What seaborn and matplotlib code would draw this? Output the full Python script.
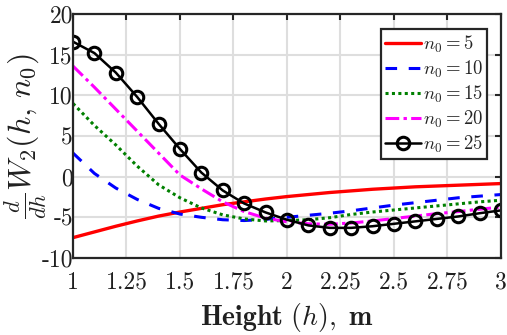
import numpy as np
import pandas as pd
import matplotlib
matplotlib.use("Agg")
import matplotlib.pyplot as plt
import seaborn as sns

# Height grid (m)
height = [1.0, 1.1, 1.2, 1.3, 1.4, 1.5, 1.6, 1.7, 1.8, 1.9, 2.0,
          2.1, 2.2, 2.3, 2.4, 2.5, 2.6, 2.7, 2.8, 2.9, 3.0]

# d/dh W2(h, n0) for each n0
dw_n5 = [-7.5, -6.8, -6.1, -5.45, -4.85, -4.35, -3.9, -3.45, -3.1, -2.75, -2.45,
         -2.2, -1.95, -1.75, -1.55, -1.4, -1.25, -1.15, -1.05, -0.95, -0.85]
dw_n10 = [2.9, 0.4, -1.4, -2.8, -3.9, -4.6, -5.0, -5.3, -5.4, -5.25, -5.0,
          -4.75, -4.5, -4.2, -3.85, -3.5, -3.2, -2.9, -2.6, -2.4, -2.2]
dw_n15 = [9.0, 6.3, 3.9, 1.3, -1.0, -2.6, -3.85, -4.7, -5.2, -5.45, -5.4,
          -5.3, -5.05, -4.65, -4.35, -4.1, -3.85, -3.6, -3.35, -3.1, -2.9]
dw_n20 = [13.6, 11.0, 8.3, 5.6, 2.9, 0.2, -1.5, -3.1, -4.3, -5.1, -5.55,
          -5.8, -5.85, -5.7, -5.45, -5.15, -4.85, -4.55, -4.3, -4.0, -3.75]
dw_n25 = [16.6, 15.2, 12.8, 9.8, 6.5, 3.4, 0.5, -1.7, -3.3, -4.4, -5.3,
          -6.0, -6.3, -6.3, -6.1, -5.8, -5.5, -5.2, -4.9, -4.5, -4.15]

labels = [r"$n_0 = 5$", r"$n_0 = 10$", r"$n_0 = 15$", r"$n_0 = 20$", r"$n_0 = 25$"]

xticks = [1, 1.25, 1.5, 1.75, 2, 2.25, 2.5, 2.75, 3]
xtick_labels = ["1", "1.25", "1.5", "1.75", "2", "2.25", "2.5", "2.75", "3"]
yticks = [-10, -5, 0, 5, 10, 15, 20]
ytick_labels = ["-10", "-5", "0", "5", "10", "15", "20"]

sns.set_style("white")
plt.rcParams["font.family"] = ["cmr10"]
plt.rcParams["mathtext.fontset"] = "cm"
plt.rcParams["axes.unicode_minus"] = False

fig = plt.figure(figsize=(5.07, 3.35), dpi=100)
ax = fig.add_axes([0.144, 0.230, 0.844, 0.728])

styles = [
    dict(color="#ff0000", lw=2.4, dashes=None),
    dict(color="#0000ff", lw=2.2, dashes=(3.8, 3.8)),
    dict(color="#008000", lw=2.2, dashes=(1, 1.1)),
    dict(color="#ff00ff", lw=2.2, dashes=(4.5, 1.4, 1.1, 1.4)),
]
series = [dw_n5, dw_n10, dw_n15, dw_n20]

for vals, lab, st in zip(series, labels[:4], styles):
    df = pd.DataFrame({"h": height, "dw": vals})
    sns.lineplot(data=df, x="h", y="dw", ax=ax, color=st["color"],
                 linewidth=st["lw"], label=lab)
    ln = ax.get_lines()[-1]
    if st["dashes"] is not None:
        ln.set_dashes(st["dashes"])
        ln.set_dash_capstyle("butt")

df25 = pd.DataFrame({"h": height, "dw": dw_n25})
sns.lineplot(data=df25, x="h", y="dw", ax=ax, color="black", linewidth=1.8,
             marker="o", markersize=9, markerfacecolor="none",
             markeredgecolor="black", markeredgewidth=2.2, label=labels[4])

ax.set_xlim(1, 3)
ax.set_ylim(-10, 20)
ax.set_xticks(xticks)
ax.set_xticklabels(xtick_labels)
ax.set_yticks(yticks)
ax.set_yticklabels(ytick_labels)
ax.tick_params(direction="in", length=4, width=1.5, top=True, right=True,
               labelsize=17, colors="#262626")
ax.tick_params(axis="x", pad=10)
ax.tick_params(axis="y", pad=0)
for lbl in ax.get_xticklabels() + ax.get_yticklabels():
    lbl.set_color("#202020")

ax.grid(True, color="#dedede", linewidth=1.5)
ax.set_axisbelow(True)
for sp in ax.spines.values():
    sp.set_color("#262626")
    sp.set_linewidth(1.6)

ax.set_xlabel(r"$\mathbf{Height}\ (h)\mathbf{,\ m}$", fontsize=20, color="#202020")
ax.xaxis.set_label_coords(0.5, -0.175)
ax.set_ylabel(r"$\frac{d}{dh}W_2(h,\,n_0)$", fontsize=23, color="#202020")
ax.yaxis.set_label_coords(-0.057, 0.5)

leg = ax.legend(loc="upper right", bbox_to_anchor=(0.968, 0.937),
                borderaxespad=0, fontsize=13.5, handlelength=1.9,
                handletextpad=0.1, labelspacing=0.2, borderpad=0.22,
                fancybox=False, framealpha=1, edgecolor="#262626")
leg.get_frame().set_linewidth(1.6)

fig.savefig("out.png", dpi=100)
